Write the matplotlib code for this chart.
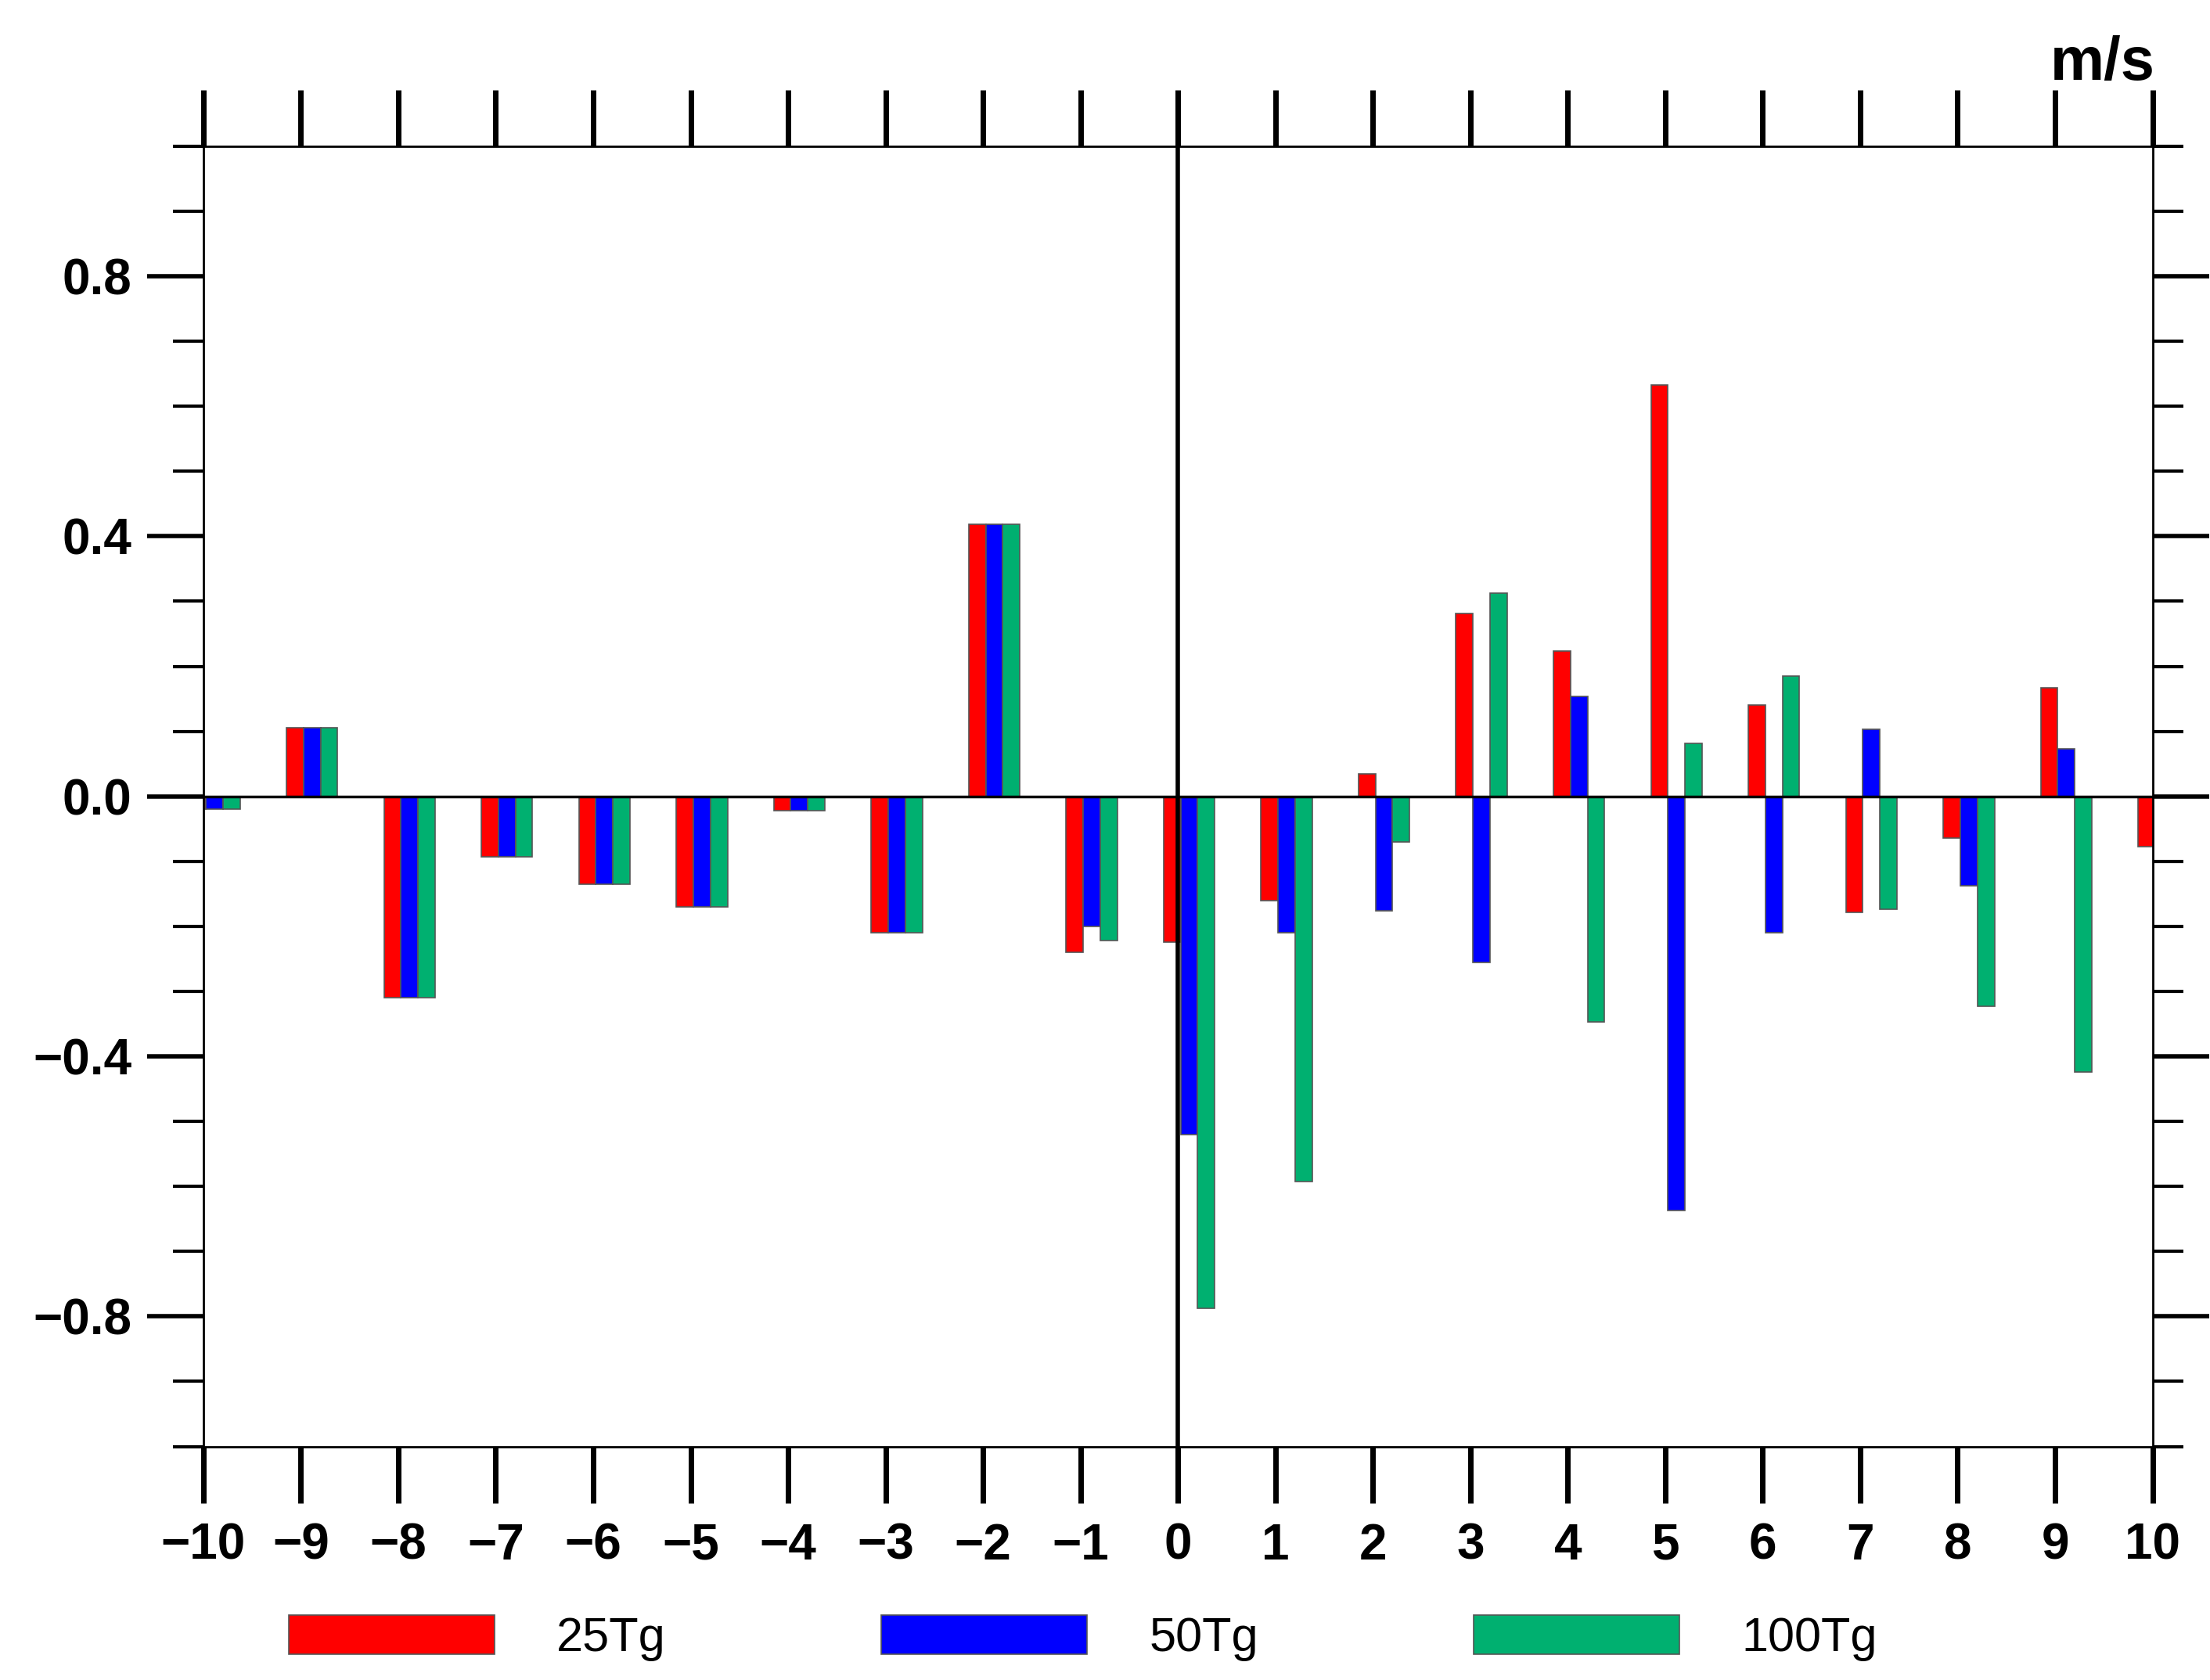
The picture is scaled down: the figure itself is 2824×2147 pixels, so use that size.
import matplotlib
matplotlib.use("Agg")
import matplotlib.pyplot as plt
import numpy as np
from matplotlib.ticker import MultipleLocator

lags = list(range(-10, 11))
v25 = [-0.02, 0.105, -0.31, -0.093, -0.135, -0.17, -0.022, -0.21, 0.418, -0.24,
       -0.224, -0.16, 0.035, 0.281, 0.224, 0.633, 0.14, -0.178, -0.064, 0.167, -0.077]
v50 = [-0.02, 0.105, -0.31, -0.093, -0.135, -0.17, -0.022, -0.21, 0.418, -0.20,
       -0.52, -0.21, -0.176, -0.255, 0.154, -0.637, -0.21, 0.103, -0.138, 0.073, -0.16]
v100 = [-0.02, 0.105, -0.31, -0.093, -0.135, -0.17, -0.022, -0.21, 0.418, -0.222,
        -0.787, -0.593, -0.07, 0.312, -0.347, 0.081, 0.185, -0.174, -0.323, -0.424, -0.10]
names = ["25Tg", "50Tg", "100Tg"]
colors = ["#ff0000", "#0000ff", "#00b070"]

plt.rcParams['font.family'] = ['Liberation Sans', 'DejaVu Sans']
plt.rcParams['font.weight'] = 'bold'
fig = plt.figure(figsize=(28.24, 21.47), dpi=100)
ax = fig.add_axes([0.092, 0.139, 0.882, 0.774])
x = np.array(lags)
w = 0.175
offs = [-0.06, 0.115, 0.29]
handles = []
for vals, c, o, n in zip([v25, v50, v100], colors, offs, names):
    b = ax.bar(x + o, vals, width=w, color=c, edgecolor='#555555', linewidth=1.2, label=n)
    handles.append(b)
ax.set_xlim(-10, 10)
ax.set_ylim(-1, 1)
ax.axhline(0, color='black', lw=2.5)
ax.axvline(0, color='black', lw=4)
ax.set_xticks(lags)
ax.set_xticklabels([str(l).replace('-', '\u2212') for l in lags], fontsize=46, fontweight='bold')
ax.set_yticks([-0.8, -0.4, 0.0, 0.4, 0.8])
ax.set_yticklabels(['\u22120.8', '\u22120.4', '0.0', '0.4', '0.8'], fontsize=46, fontweight='bold')
ax.yaxis.set_minor_locator(MultipleLocator(0.1))
ax.tick_params(axis='x', which='major', direction='out', length=52, width=5, top=True, bottom=True, pad=18)
ax.tick_params(axis='y', which='major', direction='out', length=52, width=4, left=True, right=True, pad=14)
ax.tick_params(axis='y', which='minor', direction='out', length=28, width=3, left=True, right=True)
for s in ax.spines.values():
    s.set_linewidth(2)
fig.text(0.975, 0.945, 'm/s', fontsize=56, ha='right', va='bottom', fontweight='bold')
fig.legend(handles=handles, labels=names, loc='center', bbox_to_anchor=(0.49, 0.025), ncol=3,
           frameon=False, fontsize=44, handlelength=4.3, handleheight=0.9, columnspacing=4.5, handletextpad=1.3,
           prop={'size': 44, 'weight': 'normal'})
fig.savefig('out.png', dpi=100)
